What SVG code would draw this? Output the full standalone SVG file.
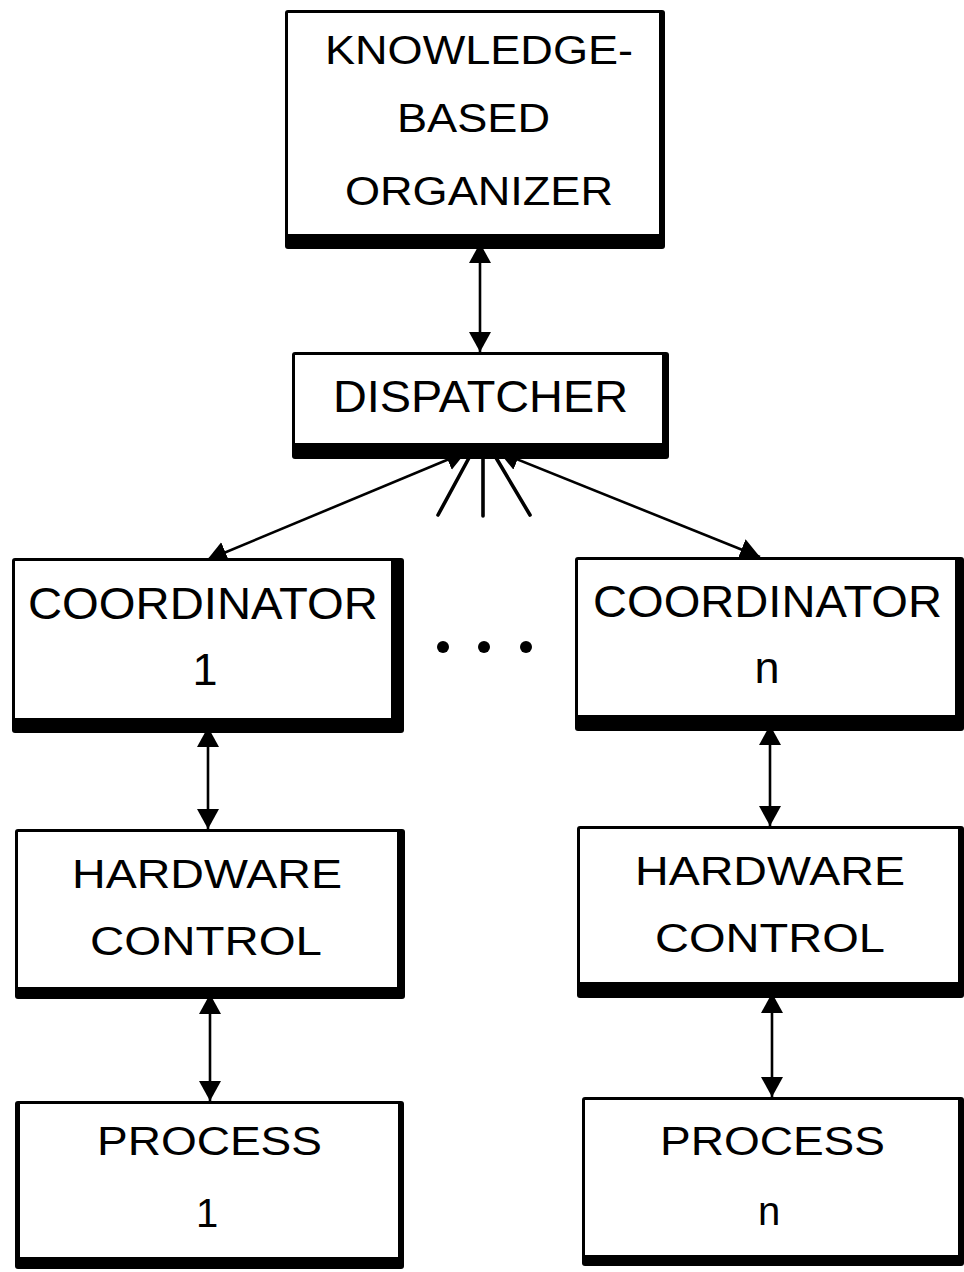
<svg xmlns="http://www.w3.org/2000/svg" width="964" height="1272" viewBox="0 0 964 1272">
  <style>
    .frame { fill: #000; }
    .face { fill: #fff; }
    .lbl { font-family: "Liberation Sans", Arial, Helvetica, sans-serif; fill: #000; }
    .big { font-size: 45px; }
    .mid { font-size: 40px; }
    .link { stroke: #000; stroke-width: 2.6; fill: none; }
    .ray { stroke: #000; stroke-width: 3.6; fill: none; stroke-linecap: round; }
  </style>
  <defs>
    <marker id="head" viewBox="0 0 20 22" refX="20" refY="11" markerWidth="20" markerHeight="22" markerUnits="userSpaceOnUse" orient="auto-start-reverse">
      <path d="M0,0 L20,11 L0,22 z" fill="#000"/>
    </marker>
  </defs>

  <rect width="964" height="1272" fill="#fff"/>

  <!-- connectors -->
  <g id="connectors">
    <line class="link" x1="480" y1="243" x2="480" y2="352" marker-start="url(#head)" marker-end="url(#head)"/>
    <line class="link" x1="466" y1="452" x2="207" y2="560" marker-start="url(#head)" marker-end="url(#head)"/>
    <line class="link" x1="499" y1="452" x2="760" y2="557" marker-start="url(#head)" marker-end="url(#head)"/>
    <line class="ray" x1="470" y1="456" x2="438" y2="515"/>
    <line class="ray" x1="483" y1="456" x2="483" y2="516"/>
    <line class="ray" x1="495" y1="456" x2="530" y2="515"/>
    <line class="link" x1="208" y1="727" x2="208" y2="829" marker-start="url(#head)" marker-end="url(#head)"/>
    <line class="link" x1="770" y1="725" x2="770" y2="826" marker-start="url(#head)" marker-end="url(#head)"/>
    <line class="link" x1="210" y1="994" x2="210" y2="1101" marker-start="url(#head)" marker-end="url(#head)"/>
    <line class="link" x1="772" y1="993" x2="772" y2="1097" marker-start="url(#head)" marker-end="url(#head)"/>
  </g>

  <!-- continuation dots between the two columns -->
  <g id="ellipsis">
    <circle cx="443" cy="647" r="6"/>
    <circle cx="484" cy="647" r="6"/>
    <circle cx="526" cy="647" r="6"/>
  </g>

  <g id="organizer">
    <rect class="frame" x="285" y="10" width="380" height="239" rx="3"/>
    <rect class="face" x="288" y="13" width="371" height="221"/>
    <text class="lbl mid" x="325" y="64" textLength="308" lengthAdjust="spacingAndGlyphs">KNOWLEDGE-</text>
    <text class="lbl mid" x="397" y="132" textLength="153" lengthAdjust="spacingAndGlyphs">BASED</text>
    <text class="lbl mid" x="345" y="205" textLength="268" lengthAdjust="spacingAndGlyphs">ORGANIZER</text>
  </g>

  <g id="dispatcher">
    <rect class="frame" x="292" y="352" width="377" height="107" rx="3"/>
    <rect class="face" x="295" y="355" width="367" height="88"/>
    <text class="lbl big" x="333" y="412" textLength="295" lengthAdjust="spacingAndGlyphs">DISPATCHER</text>
  </g>

  <g id="coordinator-1">
    <rect class="frame" x="12" y="558" width="392" height="175" rx="3"/>
    <rect class="face" x="15" y="561" width="376" height="157"/>
    <text class="lbl big" x="28" y="619" textLength="350" lengthAdjust="spacingAndGlyphs">COORDINATOR</text>
    <text class="lbl big" x="205" y="685" text-anchor="middle">1</text>
  </g>

  <g id="coordinator-n">
    <rect class="frame" x="575" y="557" width="389" height="174" rx="3"/>
    <rect class="face" x="578" y="560" width="377" height="155"/>
    <text class="lbl big" x="593" y="617" textLength="349" lengthAdjust="spacingAndGlyphs">COORDINATOR</text>
    <text class="lbl big" x="767" y="683" text-anchor="middle">n</text>
  </g>

  <g id="hardware-1">
    <rect class="frame" x="15" y="829" width="390" height="170" rx="3"/>
    <rect class="face" x="18" y="832" width="379" height="155"/>
    <text class="lbl mid" x="72" y="888" textLength="270" lengthAdjust="spacingAndGlyphs">HARDWARE</text>
    <text class="lbl mid" x="90" y="955" textLength="232" lengthAdjust="spacingAndGlyphs">CONTROL</text>
  </g>

  <g id="hardware-n">
    <rect class="frame" x="577" y="826" width="387" height="172" rx="3"/>
    <rect class="face" x="580" y="829" width="378" height="153"/>
    <text class="lbl mid" x="635" y="885" textLength="270" lengthAdjust="spacingAndGlyphs">HARDWARE</text>
    <text class="lbl mid" x="655" y="952" textLength="230" lengthAdjust="spacingAndGlyphs">CONTROL</text>
  </g>

  <g id="process-1">
    <rect class="frame" x="15" y="1101" width="389" height="168" rx="3"/>
    <rect class="face" x="20" y="1104" width="378" height="153"/>
    <text class="lbl mid" x="97" y="1155" textLength="225" lengthAdjust="spacingAndGlyphs">PROCESS</text>
    <text class="lbl mid" x="207" y="1227" text-anchor="middle">1</text>
  </g>

  <g id="process-n">
    <rect class="frame" x="582" y="1097" width="382" height="169" rx="3"/>
    <rect class="face" x="585" y="1100" width="373" height="155"/>
    <text class="lbl mid" x="660" y="1155" textLength="225" lengthAdjust="spacingAndGlyphs">PROCESS</text>
    <text class="lbl mid" x="769" y="1225" text-anchor="middle">n</text>
  </g>
</svg>
